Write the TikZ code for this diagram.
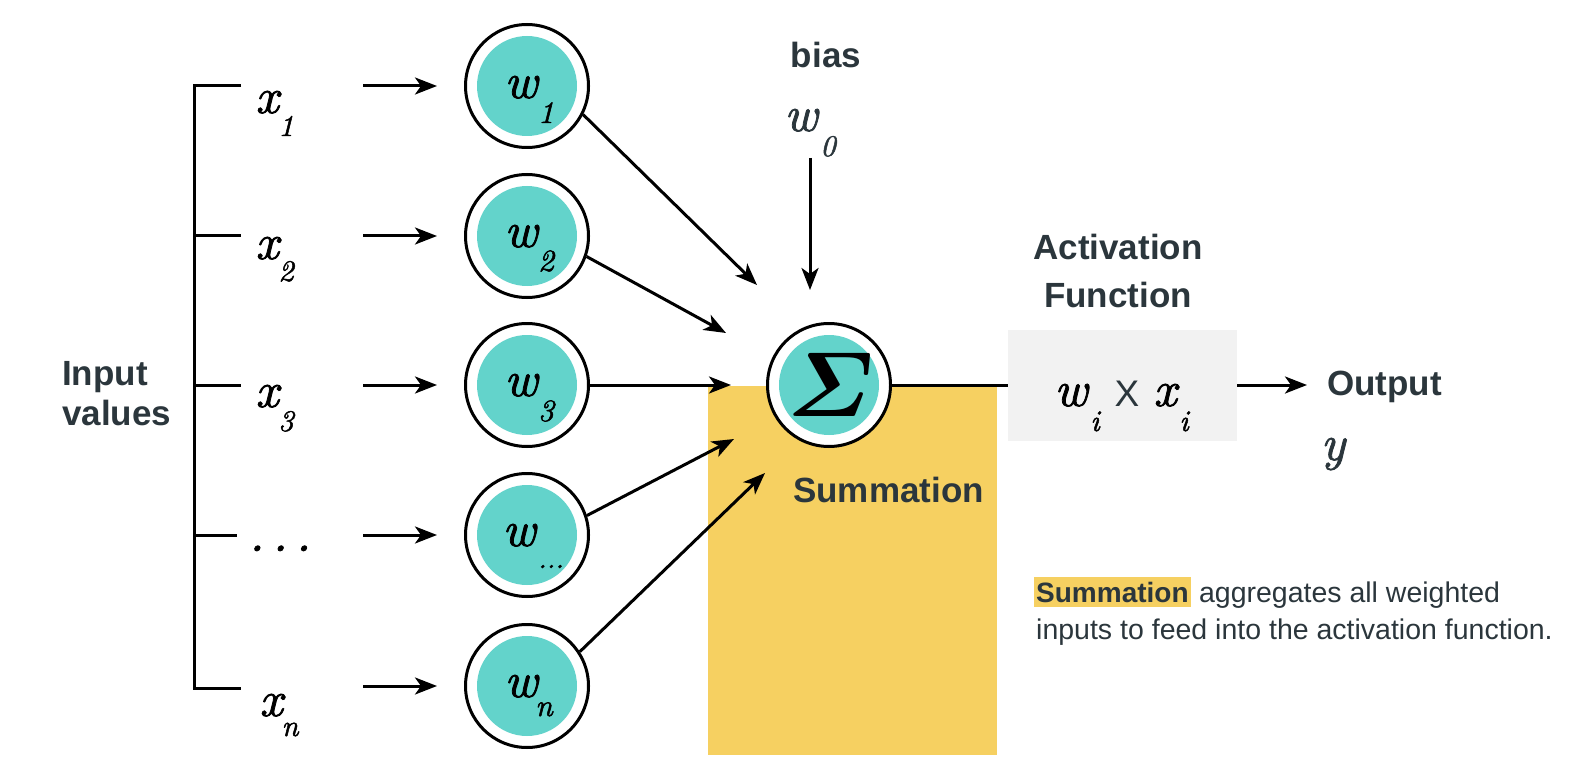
\RequirePackage{fix-cm}
\documentclass[tikz,border=0pt]{standalone}
\usepackage{amsmath}
\usepackage{fontspec}
\newfontfamily\rob{Liberation Sans}
\newfontfamily\lmit{lmroman10-italic}[Extension=.otf,FakeBold=1.6]
\usetikzlibrary{arrows.meta}
\definecolor{tealc}{HTML}{63D3CB}
\definecolor{yel}{HTML}{F6D061}
\definecolor{grayb}{HTML}{F2F2F2}
\definecolor{slate}{HTML}{2B363C}
\begin{document}
\begin{tikzpicture}[x=1pt,y=-1pt,
  ln/.style={line width=3pt},
  arr/.style={line width=3pt,-{Stealth[length=22pt,width=17pt,inset=6pt]}},
  wnode/.style={circle,draw,fill=white,line width=3pt,minimum size=123pt,inner sep=0pt,
    path picture={\fill[tealc] (path picture bounding box.center) circle[radius=50pt];}},
  big/.style={font=\lmit\fontsize{50}{50}\selectfont,inner sep=0pt,anchor=base},
  sub/.style={font=\lmit\fontsize{30}{30}\selectfont,inner sep=0pt,anchor=base},
  wsub/.style={font=\lmit\fontsize{31}{31}\selectfont,inner sep=0pt,anchor=base},
  head/.style={font=\rob\bfseries\fontsize{35}{40}\selectfont,text=slate,inner sep=0pt,anchor=base},
  desc/.style={font=\rob\fontsize{28.5}{34}\selectfont,text=slate,inner sep=0pt,anchor=base west},
]
\useasboundingbox (0,0) rectangle (1596,770);

% summation background
\fill[yel] (708,386) rectangle (997,755);

% bracket
\draw[ln] (241,86) -- (194,86) -- (194,688) -- (241,688);
\draw[ln] (194,236) -- (241,236);
\draw[ln] (194,385) -- (241,385);
\draw[ln] (194,535) -- (237,535);

% input labels
\node[big] (x1) at (267,113) {x};
\node[sub] (x1s) at (286,136) {1};
\node[big] (x2) at (267,259) {x};
\node[sub] (x2s) at (286,281) {2};
\node[big] (x3) at (267,407) {x};
\node[sub] (x3s) at (286,431) {3};
\node[big] (xd) at (280,551) {.\kern8pt.\kern8pt.};
\node[big] (xn) at (271,716) {x};
\node[sub] (xns) at (290,736) {n};

% weight nodes
\node[wnode] (w1) at (527,86) {};
\node[wnode] (w2) at (527,236) {};
\node[wnode] (w3) at (527,385) {};
\node[wnode] (wd) at (527,535) {};
\node[wnode] (wn) at (527,686) {};
\node[big] (w1l) at (521,98) {w};
\node[wsub] (w1s) at (546,123) {1};
\node[big] (w2l) at (521,247) {w};
\node[wsub] (w2s) at (546,271) {2};
\node[big] (w3l) at (521,396) {w};
\node[wsub] (w3s) at (546,421) {3};
\node[big] (wdl) at (519,546) {w};
\node[wsub,font=\lmit\fontsize{28}{28}\selectfont] (wds) at (551,568) {...};
\node[big] (wnl) at (521,697) {w};
\node[wsub] (wns) at (544,716) {n};

% input arrows
\coordinate (s1) at (363,86);
\coordinate (s2) at (363,236);
\coordinate (s3) at (363,385);
\coordinate (sd) at (363,535);
\coordinate (sn) at (363,686);
\draw[arr,shorten >=27pt] (s1) -- (w1);
\draw[arr,shorten >=27pt] (s2) -- (w2);
\draw[arr,shorten >=27pt] (s3) -- (w3);
\draw[arr,shorten >=27pt] (sd) -- (wd);
\draw[arr,shorten >=27pt] (sn) -- (wn);

% summation node
\node[wnode] (sig) at (829,385) {};
\node[inner sep=0pt,font=\fontsize{92}{92}\selectfont] (sigl) at (831,385) {$\boldsymbol{\varSigma}$};

% arrows to summation
\coordinate (t1) at (757,285);
\coordinate (t2) at (726,333);
\coordinate (t3) at (731,385);
\coordinate (td) at (734,439);
\coordinate (tn) at (765,473);
\draw[arr] (w1.-27) -- (t1);
\draw[arr] (w2.-19) -- (t2);
\draw[arr] (w3.east) -- (t3);
\draw[arr] (wd.18) -- (td);
\draw[arr] (wn.33) -- (tn);

% bias
\node[head] (bias) at (826,68) {bias};
\node[big,text=slate] (w0) at (801,131) {w};
\node[sub,text=slate] (w0s) at (828,156) {0};
\coordinate (b0) at (810,158);
\coordinate (b1) at (810,290);
\draw[arr] (b0) -- (b1);

% activation
\node[fill=grayb,minimum width=229pt,minimum height=111pt,inner sep=0pt] (box) at (1122.5,385) {};
\draw[ln] (sig.east) -- (box.west);
\node[head] (act1) at (1118,260) {Activation};
\node[head] (act2) at (1118,307) {Function};
\node[big] (bw) at (1071,406) {w};
\node[sub] (bwi) at (1095,431) {i};
\node[inner sep=0pt,anchor=base,font=\rob\fontsize{37}{38}\selectfont,text=slate] (bx) at (1127,406) {X};
\node[big] (bxx) at (1165,406) {x};
\node[sub] (bxi) at (1184,431) {i};

% output
\coordinate (o1) at (1307,385);
\draw[arr] (box.east) -- (o1);
\node[head,anchor=base west] (out) at (1327,395) {Output};
\node[big,text=slate] (yl) at (1333,460) {y};

% labels
\node[head,anchor=base west] (in1) at (62,385) {Input};
\node[head,anchor=base west] (in2) at (62,425) {values};
\node[head,anchor=base west] (summ) at (793,502) {Summation};

% description
\node[desc,font=\rob\bfseries\fontsize{28}{34}\selectfont,fill=yel,inner xsep=2pt,inner ysep=5pt] (hl) at (1034,602) {Summation};
\node[desc] (d1) at ([xshift=8pt]hl.base east) {aggregates all weighted};
\node[desc] (d2) at (1036,639) {inputs to feed into the activation function.};
\end{tikzpicture}
\end{document}
